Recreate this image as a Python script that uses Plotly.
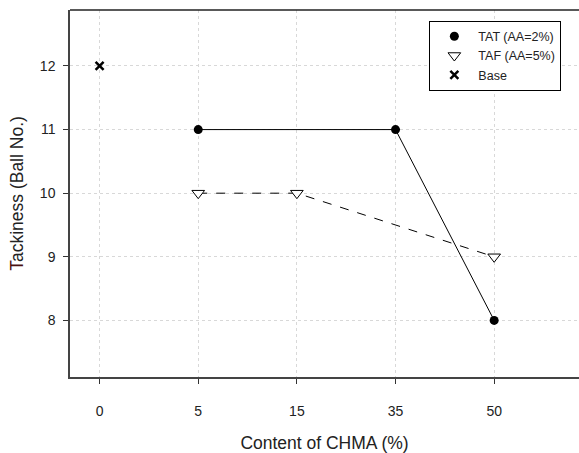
import plotly.graph_objects as go

categories = ["0", "5", "15", "35", "50"]
tat_x = ["5", "35", "50"]
tat_y = [11, 11, 8]
taf_x = ["5", "15", "50"]
taf_y = [10, 10, 9]
base_x = ["0"]
base_y = [12]
y_ticks = [8, 9, 10, 11, 12]

pos = {c: i for i, c in enumerate(categories)}
def px(xs):
    return [pos[c] for c in xs]

fig = go.Figure()
# lines (no legend)
fig.add_trace(go.Scatter(x=px(tat_x), y=tat_y, mode="lines",
                         line=dict(color="black", width=1), showlegend=False, hoverinfo="skip"))
fig.add_trace(go.Scatter(x=px(taf_x), y=taf_y, mode="lines",
                         line=dict(color="black", width=1, dash="dash"), showlegend=False, hoverinfo="skip"))
# markers
fig.add_trace(go.Scatter(x=px(tat_x), y=tat_y, mode="markers", name="TAT (AA=2%)",
                         marker=dict(symbol="circle", size=9, color="black")))
fig.add_trace(go.Scatter(x=px(taf_x), y=taf_y, mode="markers", name="TAF (AA=5%)",
                         marker=dict(symbol="triangle-down", size=11, color="white",
                                     line=dict(color="black", width=1))))
fig.add_trace(go.Scatter(x=px(base_x), y=base_y, mode="markers", name="Base",
                         marker=dict(symbol="x-thin", size=8, color="black",
                                     line=dict(color="black", width=2.5))))

font_family = "Liberation Sans, Arial, sans-serif"
fig.update_layout(
    width=579, height=453,
    margin=dict(l=70, r=0, t=10, b=74),
    paper_bgcolor="white", plot_bgcolor="white",
    font=dict(family=font_family, color="#222"),
    showlegend=True,
    legend=dict(x=0.706, y=0.971, xanchor="left", yanchor="top",
                bordercolor="black", borderwidth=1, bgcolor="white",
                font=dict(size=12.5, color="#222"), tracegroupgap=0,
                itemwidth=38),
    xaxis=dict(range=[-0.3, 4.86], tickmode="array", tickvals=list(range(len(categories))),
               ticktext=categories, ticks="outside", ticklen=5, tickcolor="#333",
               showline=True, linecolor="#444", linewidth=1.5, mirror=False,
               showgrid=True, gridcolor="#d8d8d8", griddash="dot", gridwidth=1,
               zeroline=False, tickfont=dict(size=14), ticklabelstandoff=15,
               title=dict(text="Content of CHMA (%)", font=dict(size=17.5), standoff=22)),
    yaxis=dict(range=[7.11, 12.88], tickmode="array", tickvals=y_ticks,
               ticks="outside", ticklen=5, tickcolor="#333",
               showline=True, linecolor="#444", linewidth=1.5,
               showgrid=True, gridcolor="#d8d8d8", griddash="dot", gridwidth=1,
               zeroline=False, tickfont=dict(size=14), ticklabelstandoff=5,
               title=dict(text="<span style='color:#4a1010'>T</span>ackiness (Ball No.)",
                          font=dict(size=17.5), standoff=12)),
)
# top border line
fig.add_shape(type="line", xref="paper", yref="paper", x0=0, x1=1, y0=1, y1=1,
              line=dict(color="#222", width=1.5))

fig.write_html("out.html")
